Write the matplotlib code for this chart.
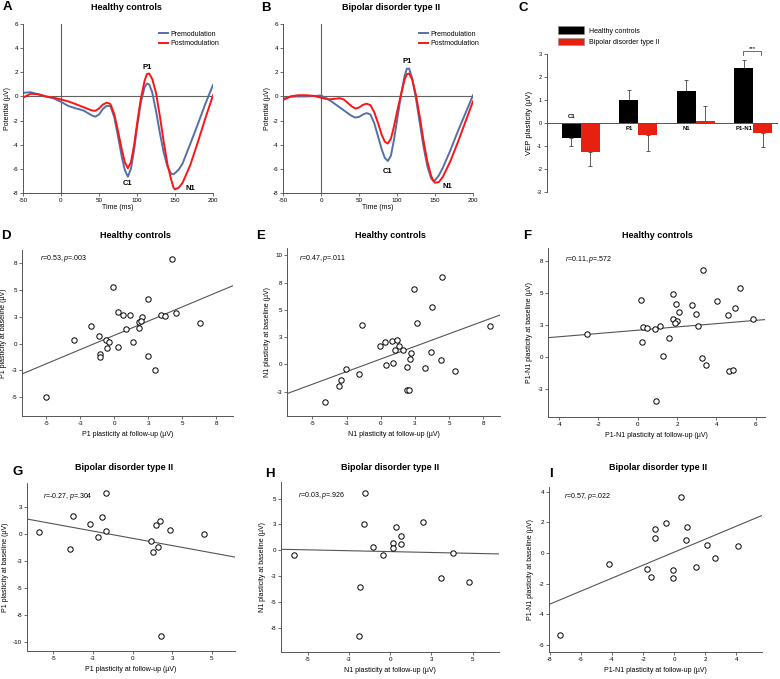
import numpy as np
import matplotlib
matplotlib.use('Agg')
import matplotlib.pyplot as plt
from matplotlib.patches import Patch

plt.rcParams['font.family'] = ['Liberation Sans', 'DejaVu Sans']
plt.rcParams['mathtext.fontset'] = 'custom'
plt.rcParams['mathtext.it'] = 'Liberation Sans:italic'
plt.rcParams['mathtext.rm'] = 'Liberation Sans'
plt.rcParams['axes.unicode_minus'] = False

# ---- ERP waveforms (A, B) ----
time_ms = [-50, -40, -30, -20, -10, 0, 10, 20, 25, 30, 40, 45, 50, 55, 60, 65, 70, 75, 80, 84,
           88, 92, 96, 100, 105, 110, 113, 116, 120, 125, 130, 135, 140, 145, 148, 150, 155,
           160, 170, 180, 190, 200]
hc_pre = [0.30, 0.35, 0.18, 0.0, -0.15, -0.45, -0.80, -1.00, -1.08, -1.18, -1.55, -1.68, -1.50,
          -1.05, -0.78, -0.80, -1.70, -3.30, -5.00, -6.10, -6.65, -6.00, -4.50, -2.60, -0.50,
          0.75, 1.05, 1.00, 0.35, -1.20, -3.00, -4.60, -5.80, -6.40, -6.45, -6.35, -6.05,
          -5.55, -3.95, -2.30, -0.60, 0.95]
hc_post = [-0.10, 0.22, 0.18, 0.0, -0.10, -0.25, -0.42, -0.65, -0.78, -0.90, -1.15, -1.20, -1.00,
           -0.68, -0.52, -0.62, -1.45, -2.85, -4.40, -5.45, -5.95, -5.45, -4.10, -2.30, -0.20,
           1.30, 1.85, 1.90, 1.45, 0.30, -1.60, -3.70, -5.60, -6.90, -7.55, -7.70, -7.55,
           -7.15, -5.70, -3.80, -1.80, 0.10]
bd_pre = [-0.20, -0.02, 0.0, 0.0, 0.03, 0.08, -0.25, -0.70, -0.92, -1.15, -1.60, -1.75, -1.70,
          -1.50, -1.38, -1.50, -2.20, -3.30, -4.40, -5.10, -5.35, -4.90, -3.60, -2.00, 0.00,
          1.70, 2.30, 2.30, 1.50, -0.20, -2.20, -4.20, -5.80, -6.80, -7.00, -6.95, -6.55,
          -5.95, -4.50, -2.90, -1.40, 0.10]
bd_post = [-0.30, 0.00, 0.10, 0.10, 0.05, -0.10, -0.25, -0.18, -0.15, -0.25, -0.80, -1.00, -0.92,
           -0.70, -0.60, -0.72, -1.30, -2.20, -3.20, -3.75, -3.90, -3.50, -2.50, -1.30, 0.10,
           1.40, 1.85, 1.90, 1.40, 0.10, -1.70, -3.70, -5.40, -6.60, -7.00, -7.15, -7.10,
           -6.70, -5.40, -3.80, -2.10, -0.40]

# ---- VEP plasticity bars (C) ----
components = ['C1', 'P1', 'N1', 'P1-N1']
hc_mean = [-0.67, 1.00, 1.39, 2.39]
hc_err = [0.35, 0.42, 0.47, 0.35]
bd_mean = [-1.24, -0.51, 0.09, -0.42]
bd_err = [0.62, 0.69, 0.64, 0.63]

# ---- scatter panels (D-I): follow-up (x) vs baseline (y) ----
d_x = [4.24, -0.07, 2.46, 0.29, 0.61, 1.17, 2.05, 1.80, 1.98, 3.46, 3.76, 4.54, 6.29, 1.83,
       0.83, -1.73, -1.10, -2.95, -0.63, -0.37, -0.56, 1.41, 0.27, -1.07, -1.07, 2.49, 3.02, -5.0]
d_y = [7.85, 5.28, 4.11, 2.88, 2.67, 2.67, 2.45, 2.02, 2.06, 2.61, 2.52, 2.79, 1.87, 1.44,
       1.35, 1.60, 0.71, 0.28, 0.31, 0.12, -0.40, 0.12, -0.31, -0.98, -1.26, -1.17, -2.42, -5.0]
e_x = [4.44, 2.44, 3.76, 2.68, -1.37, 7.98, -0.05, 0.32, 0.85, 1.22, 1.34, 1.63, 1.07, 2.22,
       3.68, 0.90, 0.37, 2.12, 4.37, 1.95, 3.22, 5.39, -2.56, -1.59, -2.93, -3.05, 1.95, 2.05, -4.10]
e_y = [8.04, 6.90, 5.28, 3.77, 3.62, 3.50, 1.66, 2.09, 2.12, 2.21, 1.66, 1.35, 1.29, 1.07,
       1.13, 0.15, -0.09, 0.46, 0.40, -0.21, -0.28, -0.61, -0.46, -0.83, -1.38, -1.93, -2.30,
       -2.33, -3.44]
f_x = [3.33, 5.20, 1.80, 0.17, 4.06, 1.97, 2.77, 2.11, 4.95, 4.61, 2.96, 1.80, 2.01, 1.90,
       5.85, 3.08, 1.11, 0.27, 0.48, 0.87, -2.60, 1.60, 0.22, 1.28, 3.27, 3.47, 4.66, 4.86, 0.92]
f_y = [6.81, 5.39, 4.95, 4.48, 4.42, 4.16, 4.06, 3.53, 3.80, 3.32, 3.38, 3.01, 2.83, 2.70,
       2.98, 2.41, 2.46, 2.33, 2.25, 2.17, 1.83, 1.49, 1.20, 0.08, -0.05, -0.60, -1.10, -1.02,
       -3.40]
g_x = [-1.66, -3.77, -1.95, -2.70, -5.89, -1.70, -2.18, -3.94, 1.45, 1.74, 2.39, 4.53, 1.17,
       1.59, 1.28, 1.80]
g_y = [3.83, 1.67, 1.54, 0.93, 0.15, 0.31, -0.31, -1.36, 0.80, 1.23, 0.37, 0.00, -0.62,
       -1.23, -1.70, -9.41]
h_x = [-1.51, 1.98, -1.57, 0.38, 0.65, 0.20, 0.67, 0.18, -1.03, -0.46, -5.83, 3.79, 3.06,
       4.78, -1.83, -1.90]
h_y = [5.58, 2.77, 2.52, 2.29, 1.35, 0.74, 0.61, 0.26, 0.35, -0.45, -0.48, -0.23, -2.68,
       -3.06, -3.58, -8.26]
i_x = [0.43, -0.52, 0.86, -1.23, -1.25, 0.75, 2.13, 4.13, 2.62, -4.17, 1.42, -1.74, -0.06,
       -1.46, -0.06, -7.35]
i_y = [3.62, 1.94, 1.70, 1.53, 0.96, 0.85, 0.55, 0.48, -0.33, -0.70, -0.94, -1.07, -1.11,
       -1.59, -1.62, -5.33]

# regression lines: (intercept, slope)
d_fit = (0.76, 0.528)
e_fit = (0.50, 0.463)
f_fit = (2.10, 0.128)
g_fit = (-0.39, -0.268)
h_fit = (-0.125, -0.034)
i_fit = (0.05, 0.423)

d_stat = r'$\it{r}$=0.53, $\it{p}$=.003'
e_stat = r'$\it{r}$=0.47, $\it{p}$=.011'
f_stat = r'$\it{r}$=0.11, $\it{p}$=.572'
g_stat = r'$\it{r}$=-0.27, $\it{p}$=.304'
h_stat = r'$\it{r}$=0.03, $\it{p}$=.926'
i_stat = r'$\it{r}$=0.57, $\it{p}$=.022'

W, H = 780, 679
fig = plt.figure(figsize=(W / 100, H / 100), dpi=100)
fig.patch.set_facecolor('white')

BLUE = '#5570a6'
RED = '#ff1414'
GREY = '#555555'


def box(l, t, r, b):
    return [l / W, 1 - b / H, (r - l) / W, (b - t) / H]


def ftext(x, y, s, **kw):
    fig.text(x / W, 1 - y / H, s, **kw)


def style_axes(ax):
    for side in ['top', 'right']:
        ax.spines[side].set_visible(False)
    for side in ['left', 'bottom']:
        ax.spines[side].set_color(GREY)
        ax.spines[side].set_linewidth(0.7)
    ax.tick_params(labelsize=4.5, length=2, width=0.6, color=GREY, pad=1.5)


def erp_panel(rect, pre, post, peaks):
    ax = fig.add_axes(rect)
    ax.axhline(0, color='#606060', lw=0.8)
    ax.axvline(0, color='#606060', lw=0.8)
    ax.plot(time_ms, pre, color=BLUE, lw=1.4, label='Premodulation')
    ax.plot(time_ms, post, color=RED, lw=1.4, label='Postmodulation')
    ax.set_xlim(-50, 200)
    ax.set_ylim(-8, 6)
    ax.set_xticks(np.arange(-50, 201, 50))
    ax.set_yticks(np.arange(-8, 7, 2))
    style_axes(ax)
    ax.set_xlabel('Time (ms)', fontsize=5, labelpad=0.5)
    ax.set_ylabel('Potential (µV)', fontsize=5, labelpad=1)
    for name, (px_, py_) in peaks.items():
        ax.text(px_, py_, name, fontsize=5.5, fontweight='bold', ha='center', va='center')
    ax.legend(loc='upper right', bbox_to_anchor=(1.05, 0.98), frameon=False, fontsize=5,
              handlelength=1.3, handletextpad=0.3, labelspacing=0.35, borderpad=0)
    return ax


erp_panel(box(23, 24, 213, 193), hc_pre, hc_post,
          {'P1': (113, 2.4), 'C1': (88, -7.2), 'N1': (170, -7.6)})
erp_panel(box(283, 24, 473, 193), bd_pre, bd_post,
          {'P1': (114, 2.9), 'C1': (88, -6.2), 'N1': (166, -7.5)})

# ---- panel C ----
axc = fig.add_axes(box(547, 54, 778, 192))
pos = np.arange(len(components))
bw = 0.33
hc_lo = [e if m < 0 else 0 for m, e in zip(hc_mean, hc_err)]
hc_hi = [e if m >= 0 else 0 for m, e in zip(hc_mean, hc_err)]
bd_lo = [e if m < 0 else 0 for m, e in zip(bd_mean, bd_err)]
bd_hi = [e if m >= 0 else 0 for m, e in zip(bd_mean, bd_err)]
axc.bar(pos - bw / 2, hc_mean, bw, color='black', zorder=2)
axc.bar(pos + bw / 2, bd_mean, bw, color='#e8200f', zorder=2)
axc.errorbar(pos - bw / 2, hc_mean, yerr=[hc_lo, hc_hi], fmt='none', ecolor='#444444',
             elinewidth=0.6, capsize=1.5, capthick=0.6, zorder=1)
axc.errorbar(pos + bw / 2, bd_mean, yerr=[bd_lo, bd_hi], fmt='none', ecolor='#444444',
             elinewidth=0.6, capsize=1.5, capthick=0.6, zorder=1)
axc.axhline(0, color=GREY, lw=0.7, zorder=3)
for p, name, m in zip(pos, components, hc_mean):
    axc.text(p - bw / 2, 0.28 if m < 0 else -0.25, name, fontsize=4.3, fontweight='bold',
             ha='center', va='center')
axc.plot([pos[3] - bw * 0.55, pos[3] - bw * 0.55, pos[3] + bw * 0.4, pos[3] + bw * 0.4],
         [2.95, 3.12, 3.12, 2.95], color=GREY, lw=0.6, clip_on=False)
axc.text(pos[3] - bw * 0.07, 3.12, '***', fontsize=4.5, ha='center', va='bottom')
axc.set_xlim(-0.59, 3.43)
axc.set_ylim(-3, 3)
axc.set_yticks(np.arange(-3, 4, 1))
axc.set_xticks([])
style_axes(axc)
axc.spines['bottom'].set_visible(False)
axc.tick_params(labelsize=4)
axc.set_ylabel('VEP plasticity (µV)', fontsize=5.5, labelpad=3)
axc.legend(handles=[Patch(facecolor='black', edgecolor='#888888', lw=0.4, label='Healthy controls'),
                    Patch(facecolor='#e8200f', edgecolor='#888888', lw=0.4,
                          label='Bipolar disorder type II')],
           loc='upper left', bbox_to_anchor=(0.048, 1.2), frameon=False, fontsize=5,
           handlelength=3.8, handleheight=1.3, handletextpad=0.6, labelspacing=0.45,
           borderpad=0, borderaxespad=0)


# ---- scatter panels ----
def scatter_panel(rect, xs, ys, fit, xlim, ylim, xt, xtl, yt, ytl, xlabel, ylabel, stat, spos):
    ax = fig.add_axes(rect)
    xx = np.array(xlim)
    ax.plot(xx, fit[0] + fit[1] * xx, color=GREY, lw=0.8, zorder=2)
    ax.scatter(xs, ys, s=15, facecolors='white', edgecolors='black', linewidths=0.7, zorder=3,
               clip_on=False)
    ax.set_xlim(xlim)
    ax.set_ylim(ylim)
    ax.set_xticks(xt)
    ax.set_xticklabels(xtl)
    ax.set_yticks(yt)
    ax.set_yticklabels(ytl)
    style_axes(ax)
    ax.set_xlabel(xlabel, fontsize=5, labelpad=4)
    ax.set_ylabel(ylabel, fontsize=5, labelpad=3)
    ax.text(spos[0], spos[1], stat, transform=ax.transAxes, fontsize=5, va='center')
    return ax


t25a = [-5, -2.5, 0, 2.5, 5, 7.5]
l25a = ['-5', '-3', '0', '3', '5', '8']

scatter_panel(box(22, 250, 233, 416), d_x, d_y, d_fit, (-6.78, 8.72), (-6.72, 8.67),
              t25a, l25a, t25a, l25a,
              'P1 plasticity at follow-up (µV)', 'P1 plasticity at baseline (µV)',
              d_stat, (0.085, 0.946))
scatter_panel(box(287, 248, 500, 416), e_x, e_y, e_fit, (-6.85, 8.71), (-4.72, 10.67),
              t25a, l25a, [-2.5, 0, 2.5, 5, 7.5, 10], ['-3', '0', '3', '5', '8', '10'],
              'N1 plasticity at follow-up (µV)', 'N1 plasticity at baseline (µV)',
              e_stat, (0.058, 0.935))
scatter_panel(box(548, 248, 765, 417), f_x, f_y, f_fit, (-4.57, 6.48), (-4.69, 8.53),
              [-4, -2, 0, 2, 4, 6], ['-4', '-2', '0', '2', '4', '6'],
              [-2.5, 0, 2.5, 5, 7.5], ['-3', '0', '3', '5', '8'],
              'P1-N1 plasticity at follow-up (µV)', 'P1-N1 plasticity at baseline (µV)',
              f_stat, (0.078, 0.933))
scatter_panel(box(27, 483, 235, 651), g_x, g_y, g_fit, (-6.65, 6.46), (-10.8, 4.72),
              [-5, -2.5, 0, 2.5, 5], ['-5', '-3', '0', '3', '5'],
              [-10, -7.5, -5, -2.5, 0, 2.5], ['-10', '-8', '-5', '-3', '0', '3'],
              'P1 plasticity at follow-up (µV)', 'P1 plasticity at baseline (µV)',
              g_stat, (0.078, 0.92))
scatter_panel(box(281, 482, 499, 652), h_x, h_y, h_fit, (-6.61, 6.59), (-9.84, 6.61),
              [-5, -2.5, 0, 2.5, 5], ['-5', '-3', '0', '3', '5'],
              [-7.5, -5, -2.5, 0, 2.5, 5], ['-8', '-5', '-3', '0', '3', '5'],
              'N1 plasticity at follow-up (µV)', 'N1 plasticity at baseline (µV)',
              h_stat, (0.077, 0.92))
scatter_panel(box(549, 487, 762, 652), i_x, i_y, i_fit, (-8.06, 5.66), (-6.46, 4.30),
              [-8, -6, -4, -2, 0, 2, 4], ['-8', '-6', '-4', '-2', '0', '2', '4'],
              [-6, -4, -2, 0, 2, 4], ['-6', '-4', '-2', '0', '2', '4'],
              'P1-N1 plasticity at follow-up (µV)', 'P1-N1 plasticity at baseline (µV)',
              i_stat, (0.072, 0.94))

# ---- titles and panel letters ----
titles = [(126, 7, 'Healthy controls'), (391, 7, 'Bipolar disorder type II'),
          (135, 236, 'Healthy controls'), (390, 236, 'Healthy controls'),
          (657, 236, 'Healthy controls'), (124, 467, 'Bipolar disorder type II'),
          (390, 467, 'Bipolar disorder type II'), (658, 467, 'Bipolar disorder type II')]
for x, y, s in titles:
    ftext(x, y, s, fontsize=6.5, fontweight='bold', ha='center', va='center')

letters = [(7, 7, 'A'), (266, 8, 'B'), (523, 8, 'C'), (6, 236, 'D'), (261, 236, 'E'),
           (527, 236, 'F'), (18, 472, 'G'), (270, 474, 'H'), (551, 474, 'I')]
for x, y, s in letters:
    ftext(x, y, s, fontsize=9.5, fontweight='bold', ha='center', va='center')

fig.savefig('out.png', dpi=100)
